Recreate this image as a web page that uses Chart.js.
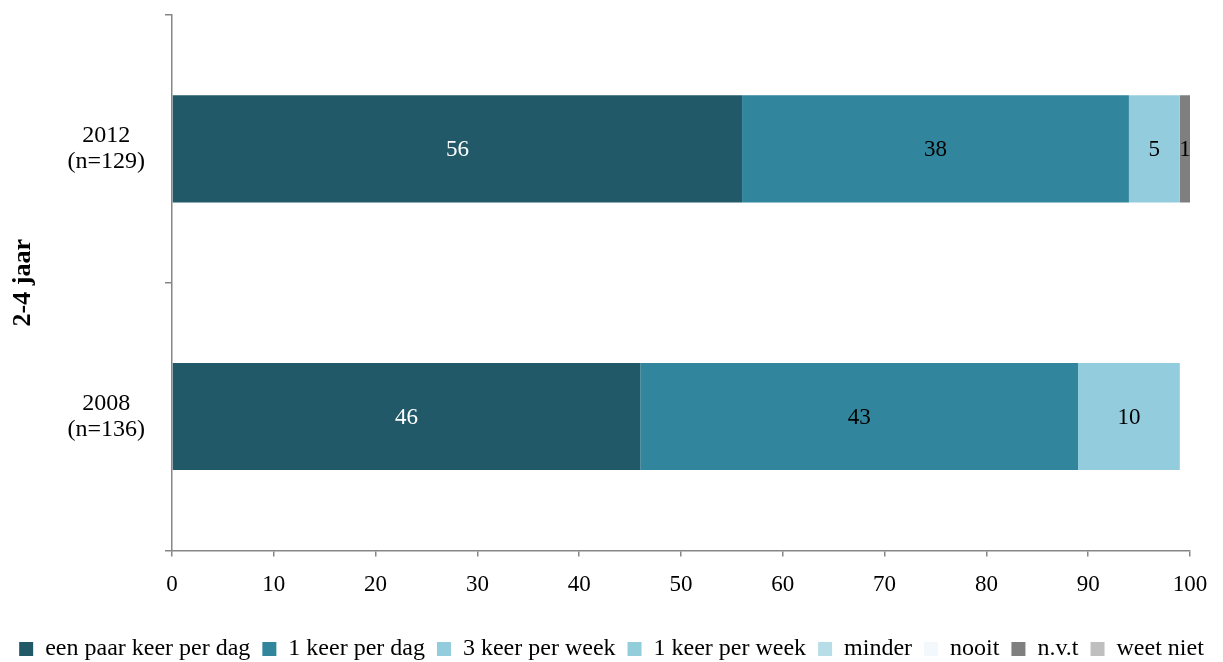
<!DOCTYPE html>
<html>
<head>
<meta charset="utf-8">
<script src="https://cdn.jsdelivr.net/npm/chart.js@4/dist/chart.umd.min.js"></script>
<style>
html,body{margin:0;padding:0;background:#fff;}
#wrap{width:1223px;height:662px;}
</style>
</head>
<body>
<div id="wrap"><canvas id="c" width="1223" height="662"></canvas></div>
<script>
const categories = [["2012", "(n=129)"], ["2008", "(n=136)"]];
const seriesNames = ["een paar keer per dag", "1 keer per dag", "3 keer per week", "1 keer per week", "minder", "nooit", "n.v.t", "weet niet"];
const eenPaarKeerPerDag = [56, 46];
const eenKeerPerDag = [38, 43];
const drieKeerPerWeek = [5, 10];
const eenKeerPerWeek = [0, 0];
const minder = [0, 0];
const nooit = [0, 0];
const nvt = [1, 0];
const weetNiet = [0, 0];
const xTicks = [0, 10, 20, 30, 40, 50, 60, 70, 80, 90, 100];
const axisTitle = "2-4 jaar";

const colors = ["#215968", "#31859c", "#93cddd", "#92cddc", "#b7dee8", "#f2f8fb", "#7f7f7f", "#bfbfbf"];
const labelColors = ["#ffffff", "#000000", "#000000", "#000000", "#000000", "#000000", "#000000", "#000000"];
const values = [eenPaarKeerPerDag, eenKeerPerDag, drieKeerPerWeek, eenKeerPerWeek, minder, nooit, nvt, weetNiet];
const FONT = "'Liberation Serif', 'DejaVu Serif', serif";

const datasets = seriesNames.map((n, i) => ({
  label: n,
  data: values[i],
  backgroundColor: colors[i],
  borderWidth: 0,
  barPercentage: 0.8,
  categoryPercentage: 0.5
}));

const labelPlugin = {
  id: 'segLabels',
  afterDatasetsDraw(chart) {
    const ctx = chart.ctx;
    ctx.save();
    ctx.font = "23px " + FONT;
    ctx.textAlign = 'center';
    ctx.textBaseline = 'middle';
    chart.data.datasets.forEach((ds, di) => {
      const meta = chart.getDatasetMeta(di);
      meta.data.forEach((el, i) => {
        const v = ds.data[i];
        if (!v) return;
        ctx.fillStyle = labelColors[di];
        ctx.fillText(String(v), (el.x + el.base) / 2, el.y + 1);
      });
    });
    ctx.restore();
  }
};

new Chart(document.getElementById('c'), {
  type: 'bar',
  data: { labels: categories, datasets },
  plugins: [labelPlugin],
  options: {
    indexAxis: 'y',
    responsive: false,
    animation: false,
    layout: { padding: { left: 0, right: 0, top: 15, bottom: -9 } },
    plugins: {
      tooltip: { enabled: false },
      legend: {
        position: 'bottom',
        labels: {
          font: { family: FONT, size: 24 },
          color: '#000',
          boxWidth: 14,
          boxHeight: 14,
          padding: 12
        }
      }
    },
    scales: {
      x: {
        stacked: true,
        min: 0, max: 100,
        afterBuildTicks: (s) => { s.ticks = xTicks.map(v => ({ value: v })); },
        afterFit: (s) => { s.paddingRight = 33; s.height += 11; },
        ticks: { font: { family: FONT, size: 23 }, color: '#000', padding: 15 },
        grid: { display: true, drawOnChartArea: false, drawTicks: true, tickLength: 6, color: '#868686', lineWidth: 1.5 },
        border: { display: true, color: '#868686', width: 1.5 }
      },
      y: {
        stacked: true,
        afterFit: (s) => { s.width = 172; s.paddingTop = 0; s.paddingBottom = 0; },
        ticks: { font: { family: FONT, size: 24, lineHeight: 1.1 }, color: '#000', crossAlign: 'center', padding: 20 },
        grid: { display: true, drawOnChartArea: false, drawTicks: true, tickLength: 7, offset: true, color: '#868686', lineWidth: 1.5 },
        border: { display: true, color: '#868686', width: 1.5 },
        title: { display: true, text: axisTitle, font: { family: FONT, size: 26, weight: 'bold' }, color: '#000', padding: { top: 8, bottom: 0 } }
      }
    }
  }
});
</script>
</body>
</html>
